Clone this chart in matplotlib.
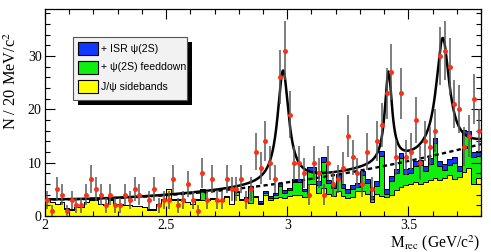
import numpy as np
import matplotlib
matplotlib.use("Agg")
import matplotlib.pyplot as plt
from matplotlib.ticker import MultipleLocator, FuncFormatter
from matplotlib.patches import Rectangle

# ---------------- data ----------------
bin_lo, bin_hi, n_bins = 2.0, 3.8, 90

data_counts = [3, 1, 5, 4, 1, 3, 2, 2, 4, 7,
               5, 4, 2, 4, 2, 2, 4, 3, 5, 4,
               0, 3, 5, 2, 3, 3, 7, 2, 3, 6,
               3, 1, 8, 3, 7, 3, 3, 7, 5, 5,
               7, 3, 5, 12, 9, 14, 10, 7, 26, 31,
               19, 10, 10, 8, 4, 10, 8, 4, 10, 6,
               7, 9, 15, 11, 8, 6, 12, 5, 14, 17,
               23, 27, 11, 23, 11, 12, 18, 10, 14, 13,
               16, 30, 31, 28, 21, 20, 13, 15, 22, 16]

sidebands = [3.0, 2.6, 2.2, 2.6, 1.4, 1.2, 1.6, 1.6, 2.6, 3.0,
             3.0, 2.2, 2.0, 3.0, 2.2, 2.2, 2.0, 2.0, 1.8, 1.8,
             1.6, 1.2, 1.2, 2.2, 3.0, 5.0, 3.0, 3.0, 3.0, 2.6,
             2.2, 3.0, 3.0, 3.0, 3.2, 2.8, 2.8, 3.6, 2.2, 4.0,
             3.0, 3.4, 2.4, 3.6, 2.2, 4.0, 3.0, 3.4, 3.6, 3.4,
             3.8, 4.0, 4.0, 3.6, 6.0, 6.0, 4.4, 5.2, 4.2, 3.8,
             4.6, 3.8, 3.4, 3.6, 4.6, 4.6, 4.2, 2.6, 4.2, 3.8,
             3.6, 4.0, 4.8, 5.4, 5.8, 6.0, 6.4, 6.0, 6.4, 6.8,
             7.2, 6.8, 7.2, 7.6, 7.0, 7.4, 8.2, 9.0, 6.0, 7.2]

feeddown = [0, 0, 0, 0, 0, 0, 0, 0, 0, 0,
            0, 0, 0, 0, 0, 0, 0, 0, 0, 0,
            0, 0, 0, 0, 0, 0, 0, 0, 0, 0,
            0, 0, 2.0, 0, 0, 0, 0, 0, 0, 0.5,
            0, 0, 3.0, 0, 0.3, 0.3, 0.3, 0.5, 2.0, 1.0,
            1.0, 2.4, 2.4, 1.0, 2.5, 2.5, 1.5, 5.0, 2.0, 1.5,
            2.5, 1.5, 1.0, 1.5, 0.8, 3.0, 2.0, 0.5, 1.5, 7.5,
            0.5, 2.5, 3.2, 5.5, 2.0, 2.0, 3.0, 3.5, 2.0, 3.0,
            6.5, 2.5, 1.5, 2.0, 3.0, 1.0, 7.0, 6.0, 5.0, 4.0]

isr = [0.1] * 40 + [0.2, 0.2, 0.3, 0.2, 0.3, 0.3, 0.4, 0.4, 0.5, 0.5,
                    0.5, 0.6, 0.6, 0.5, 0.6, 0.6, 0.6, 0.8, 0.6, 0.6,
                    0.7, 0.7, 0.7, 0.8, 0.7, 0.8, 0.8, 0.7, 0.8, 0.9,
                    0.9, 1.0, 0.9, 1.0, 1.0, 1.0, 1.0, 1.0, 1.0, 1.0,
                    1.0, 1.0, 1.0, 1.0, 1.0, 1.0, 1.0, 1.0, 1.0, 1.0]

# fit model parameters (quadratic background + three resonances)
bkg_const, bkg_quad = 3.1, 3.2
peak_mass = [2.983, 3.418, 3.642]
peak_fwhm = [0.056, 0.036, 0.066]
peak_amp = [21.0, 17.0, 21.5]

legend_labels = ["+ ISR \u03c8(2S)", "+ \u03c8(2S) feeddown", "J/\u03c8 sidebands"]
legend_colors = ["#1038ff", "#10ee10", "#ffff00"]

# ---------------- plot ----------------
plt.rcParams["mathtext.fontset"] = "stix"
serif = "Liberation Serif"

fig = plt.figure(figsize=(4.91, 2.52), dpi=100)
ax = fig.add_axes([45 / 491, 36 / 252, (481 - 45) / 491, (216 - 9) / 252])

edges = np.linspace(bin_lo, bin_hi, n_bins + 1)
centers = 0.5 * (edges[:-1] + edges[1:])
sb = np.array(sidebands)
fd = np.array(feeddown)
ir = np.array(isr)
lvl0 = sb
lvl1 = sb + fd
lvl2 = sb + fd + ir

for vals, col in [(lvl2, legend_colors[0]), (lvl1, legend_colors[1]), (lvl0, legend_colors[2])]:
    ax.stairs(vals, edges, fill=True, facecolor=col, edgecolor="none", zorder=1)
for vals in [lvl2, lvl1, lvl0]:
    ax.stairs(vals, edges, color="black", lw=0.7, baseline=None, zorder=2)

# fit curves
xf = np.linspace(bin_lo, bin_hi, 1500)
bkg = bkg_const + bkg_quad * (xf - 2.0) ** 2
tot = bkg.copy()
for m, w, a in zip(peak_mass, peak_fwhm, peak_amp):
    tot += a / (1.0 + ((xf - m) / (w / 2.0)) ** 2)
ax.plot(xf, bkg, color="black", lw=1.7, ls=(0, (1.8, 1.4)), zorder=3)
ax.plot(xf, tot, color="black", lw=1.8, zorder=4)

# data points
cnt = np.array(data_counts, dtype=float)
mask = cnt > 0
ax.errorbar(centers[mask], cnt[mask], yerr=np.sqrt(cnt[mask]), fmt="o", ms=3.6,
            mfc="#ff3015", mec="#ff3015", mew=0, ecolor="#5a5a5a", elinewidth=1.1,
            capsize=0, zorder=5)

ax.set_xlim(bin_lo, bin_hi)
ax.set_ylim(0, 38.8)
ax.xaxis.set_major_locator(MultipleLocator(0.5))
ax.xaxis.set_minor_locator(MultipleLocator(0.1))
ax.yaxis.set_major_locator(MultipleLocator(10))
ax.yaxis.set_minor_locator(MultipleLocator(2))
fmt = FuncFormatter(lambda v, p: "%g" % round(v, 3))
ax.xaxis.set_major_formatter(fmt)
ax.yaxis.set_major_formatter(fmt)
ax.tick_params(which="both", direction="in", top=True, right=True, width=0.8)
ax.tick_params(which="major", length=7)
ax.tick_params(which="minor", length=3.5)
for lab in ax.get_xticklabels() + ax.get_yticklabels():
    lab.set_fontfamily(serif)
    lab.set_fontsize(10)
ax.tick_params(axis="x", pad=2)
ax.tick_params(axis="y", pad=2.5)
for sp in ax.spines.values():
    sp.set_linewidth(0.9)

fig.text(0.979, 5.0 / 252, r"M$_{\rm rec}$ (GeV/c$^{2}$)", ha="right", va="baseline",
         fontsize=11.2, family=serif)
fig.text(0.024, 0.875, r"N / 20 MeV/c$^{2}$", ha="center", va="top", rotation=90,
         fontsize=11.8, family=serif)

# legend (drawn manually, ROOT style with shadow)
bx0, by0, bx1, by1 = 73, 37, 187, 100  # pixel box
def fx(p):
    return p / 491
def fy(p):
    return 1 - p / 252
fig.patches.append(Rectangle((fx(bx0 + 5), fy(by1 + 5)), fx(bx1 - bx0), (by1 - by0) / 252,
                             transform=fig.transFigure, facecolor="black", edgecolor="none", zorder=10))
fig.patches.append(Rectangle((fx(bx0), fy(by1)), fx(bx1 - bx0), (by1 - by0) / 252,
                             transform=fig.transFigure, facecolor="#f2f2f2", edgecolor="#555555",
                             lw=0.8, zorder=11))
row_y = [48.5, 67.5, 86.5]
for lab, col, yy in zip(legend_labels, legend_colors, row_y):
    fig.patches.append(Rectangle((fx(77.5), fy(yy + 6.5)), fx(20), 13 / 252,
                                 transform=fig.transFigure, facecolor=col, edgecolor="black",
                                 lw=0.8, zorder=12))
    fig.text(fx(101), fy(yy), lab, ha="left", va="center", fontsize=7.6,
             family="Liberation Sans", zorder=13)

fig.savefig("out.png", dpi=100)
